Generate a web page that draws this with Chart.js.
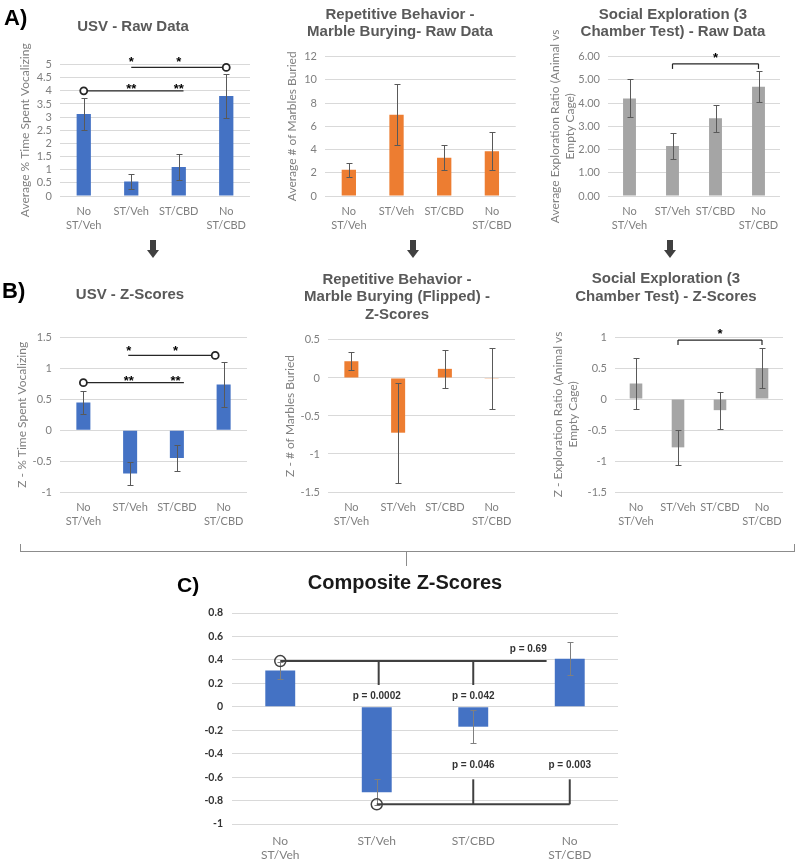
<!DOCTYPE html>
<html>
<head>
<meta charset="utf-8">
<script src="https://cdn.jsdelivr.net/npm/chart.js@4.4.1/dist/chart.umd.min.js"></script>
<style>
  html, body { margin: 0; padding: 0; background: #fff; overflow: hidden; }
  #page { position: relative; width: 797px; height: 863px; overflow: hidden; }
  canvas { position: absolute; }
  .tag { position: absolute; font: bold 22px "Liberation Sans", Arial, sans-serif; color: #000; line-height: 1; }
  .arrow { position: absolute; width: 12px; height: 18px; }
  .arrow .shaft { position: absolute; left: 3px; top: 0; width: 6px; height: 10px; background: #404040; }
  .arrow .head { position: absolute; left: 0; top: 10px; width: 0; height: 0;
    border-left: 6px solid transparent; border-right: 6px solid transparent; border-top: 8px solid #404040; }
  .brace { position: absolute; border: 1px solid #8c8c8c; border-top: none; }
  .brace-tick { position: absolute; width: 0; border-left: 1px solid #8c8c8c; }
</style>
</head>
<body>
<div id="page">
  <canvas id="cUsvRaw" width="260" height="240" style="left:0;top:0"></canvas>
  <canvas id="cMarbleRaw" width="260" height="240" style="left:260px;top:0"></canvas>
  <canvas id="cSocialRaw" width="277" height="240" style="left:520px;top:0"></canvas>
  <canvas id="cUsvZ" width="260" height="260" style="left:0;top:280px"></canvas>
  <canvas id="cMarbleZ" width="260" height="275" style="left:260px;top:265px"></canvas>
  <canvas id="cSocialZ" width="277" height="275" style="left:520px;top:265px"></canvas>
  <canvas id="cComposite" width="450" height="298" style="left:180px;top:565px"></canvas>

  <div class="tag" style="left:4px;top:7px">A)</div>
  <div class="tag" style="left:2px;top:280px">B)</div>
  <div class="tag" style="left:177px;top:574px;font-size:21px">C)</div>

  <div class="arrow" style="left:147px;top:240px"><div class="shaft"></div><div class="head"></div></div>
  <div class="arrow" style="left:407px;top:240px"><div class="shaft"></div><div class="head"></div></div>
  <div class="arrow" style="left:664px;top:240px"><div class="shaft"></div><div class="head"></div></div>

  <div class="brace" style="left:20px;top:544px;width:773px;height:7px"></div>
  <div class="brace-tick" style="left:406px;top:552px;height:14px"></div>
</div>

<script>
// groups (x categories)
const groups = [["No", "ST/Veh"], "ST/Veh", "ST/CBD", ["No", "ST/CBD"]];

// raw data (mean, +/- error)
const usvRaw = [3.12, 0.55, 1.1, 3.8];
const usvRawErr = [0.62, 0.3, 0.5, 0.85];
const marbleRaw = [2.25, 7.0, 3.3, 3.85];
const marbleRawErr = [0.58, 2.6, 1.05, 1.65];
const socialRaw = [4.2, 2.15, 3.35, 4.7];
const socialRawErr = [0.82, 0.55, 0.58, 0.67];

// z-scores
const usvZ = [0.45, -0.7, -0.45, 0.74];
const usvZErr = [0.19, 0.19, 0.215, 0.37];
const marbleZ = [0.22, -0.72, 0.12, -0.01];
const marbleZErr = [0.12, 0.66, 0.25, 0.4];
const socialZ = [0.25, -0.78, -0.18, 0.5];
const socialZErr = [0.41, 0.28, 0.3, 0.33];
const compositeZ = [0.31, -0.73, -0.17, 0.41];
const compositeZErr = [0.075, 0.11, 0.14, 0.14];

// y axis ranges [min, max, step]
const usvRawTicks = [0, 5, 0.5];
const marbleRawTicks = [0, 12, 2];
const socialRawTicks = [0, 6, 1];
const usvZTicks = [-1, 1.5, 0.5];
const marbleZTicks = [-1.5, 0.5, 0.5];
const socialZTicks = [-1.5, 1, 0.5];
const compositeTicks = [-1, 0.8, 0.2];

// significance marks, in category index / value units
// links: [x1, y1, x2, y2], rings: [x, y], labels: [text, x, y]
const usvRawLinks = [[0, 4.0, 2.1, 4.0], [1, 4.89, 3, 4.89]];
const usvRawRings = [[0, 4.0], [3, 4.89]];
const usvRawStars = [["**", 1, 4.16], ["**", 2, 4.16], ["*", 1, 5.19], ["*", 2, 5.19]];

const socialRawLinks = [[1, 5.47, 1, 5.69], [1, 5.69, 3, 5.69], [3, 5.69, 3, 5.47]];
const socialRawStars = [["*", 2, 6.04]];

const usvZLinks = [[0, 0.77, 2.15, 0.77], [0.96, 1.21, 2.82, 1.21]];
const usvZRings = [[0, 0.77], [2.82, 1.21]];
const usvZStars = [["**", 0.97, 0.846], ["**", 1.97, 0.846], ["*", 0.97, 1.33], ["*", 1.97, 1.33]];

const socialZLinks = [[1, 0.87, 1, 0.95], [1, 0.95, 3, 0.95], [3, 0.95, 3, 0.87]];
const socialZStars = [["*", 2, 1.085]];

const compLinks = [[0, 0.39, 2.76, 0.39], [1.02, 0.39, 1.02, 0.186], [2, 0.39, 2, 0.186],
  [1, -0.832, 3, -0.832], [2, -0.832, 2, -0.619], [3, -0.832, 3, -0.619]];
const compRings = [[0, 0.39], [1, -0.832]];
const compPvals = [["p = 0.69", 2.57, 0.493], ["p = 0.0002", 1, 0.094], ["p = 0.042", 2, 0.094],
  ["p = 0.046", 2, -0.497], ["p = 0.003", 3, -0.497]];

const BLUE = "#4472C4", ORANGE = "#ED7D31", GRAY = "#A5A5A5";

Chart.defaults.font.family = "Lato";

const errorBars = (err, color) => ({
  id: "errorBars",
  afterDatasetsDraw(chart) {
    const ctx = chart.ctx;
    const y = chart.scales.y;
    const vals = chart.data.datasets[0].data;
    ctx.save();
    ctx.strokeStyle = color;
    ctx.lineWidth = 1;
    chart.getDatasetMeta(0).data.forEach((bar, i) => {
      const x = Math.round(bar.x) + 0.5;
      const hi = Math.round(y.getPixelForValue(vals[i] + err[i])) + 0.5;
      const lo = Math.round(y.getPixelForValue(vals[i] - err[i])) + 0.5;
      ctx.beginPath();
      ctx.moveTo(x, hi); ctx.lineTo(x, lo);
      ctx.moveTo(x - 3, hi); ctx.lineTo(x + 3, hi);
      ctx.moveTo(x - 3, lo); ctx.lineTo(x + 3, lo);
      ctx.stroke();
    });
    ctx.restore();
  },
});

// lines, open circles and labels placed through the chart scales
const sigMarks = (m, st) => ({
  id: "sigMarks",
  afterDraw(chart) {
    const { ctx, scales: { x, y } } = chart;
    const px = (v) => x.getPixelForValue(v);
    const py = (v) => y.getPixelForValue(v);
    ctx.save();
    ctx.strokeStyle = st.line;
    ctx.lineWidth = st.lineWidth;
    (m.links || []).forEach(([x1, y1, x2, y2]) => {
      ctx.beginPath();
      ctx.moveTo(px(x1), py(y1));
      ctx.lineTo(px(x2), py(y2));
      ctx.stroke();
    });
    ctx.lineWidth = st.ringWidth;
    (m.rings || []).forEach(([cx, cy]) => {
      ctx.beginPath();
      ctx.arc(px(cx), py(cy), st.ringR, 0, Math.PI * 2);
      if (st.ringFill) { ctx.fillStyle = st.ringFill; ctx.fill(); }
      ctx.stroke();
    });
    ctx.fillStyle = st.text;
    ctx.font = st.font;
    ctx.textAlign = "center";
    ctx.textBaseline = "middle";
    (m.labels || []).forEach(([t, lx, ly]) => {
      ctx.fillText(t, px(lx), py(ly) + (st.textShift || 0));
    });
    ctx.restore();
  },
});

const starStyle = { line: "#262626", lineWidth: 1.2, ringWidth: 1.8, ringR: 3.5, ringFill: "#fff",
  text: "#000", font: "bold 13px 'Liberation Sans'", textShift: 3 };
const pStyle = { line: "#404040", lineWidth: 2, ringWidth: 1.5, ringR: 5.5, ringFill: null,
  text: "#333", font: "bold 10px 'Liberation Sans'" };

const barChart = (id, o) => {
  const [min, max, step] = o.ticks;
  return new Chart(document.getElementById(id), {
    type: "bar",
    data: {
      labels: groups,
      datasets: [{ data: o.values, backgroundColor: o.color, barPercentage: o.barPct || 0.3, categoryPercentage: 1 }],
    },
    options: {
      responsive: false,
      animation: false,
      layout: { padding: { left: o.L, right: o.R, top: 0, bottom: 0 } },
      plugins: {
        legend: { display: false },
        tooltip: { enabled: false },
        title: {
          display: true,
          text: o.title,
          color: o.titleColor || "#595959",
          font: { family: "Liberation Sans", size: o.titleSize || 15, weight: "bold", lineHeight: o.titleLH || 1.17 },
          padding: { top: o.tPad[0], bottom: o.tPad[1] },
        },
      },
      scales: {
        x: {
          grid: { display: false, drawTicks: false },
          border: { display: false },
          ticks: {
            color: "#7f7f7f",
            font: o.xFont || { size: 11, lineHeight: 1.3 },
            padding: o.xPad || 8,
            maxRotation: 0,
            autoSkip: false,
          },
          afterFit: (s) => { s.height = o.xH; },
        },
        y: {
          min, max,
          grid: { color: "#d9d9d9", drawTicks: false },
          border: { display: false },
          ticks: {
            stepSize: step,
            autoSkip: false,
            padding: o.yPad || 8,
            color: o.yTickColor || "#7f7f7f",
            font: o.yFont || { size: 11 },
            callback: o.fmt || ((v) => Math.round(v * 100) / 100),
          },
          title: o.yTitle
            ? { display: true, text: o.yTitle, color: "#7f7f7f", font: { size: 12, lineHeight: 1.25 }, padding: { top: o.yTitlePad, bottom: 0 } }
            : { display: false },
          afterFit: (s) => { s.width = o.yW; },
        },
      },
    },
    plugins: [errorBars(o.err, o.errColor || "#595959"), sigMarks(o.marks || {}, o.markStyle || starStyle)],
  });
};

barChart("cUsvRaw", {
  values: usvRaw, err: usvRawErr, color: BLUE, ticks: usvRawTicks,
  title: "USV - Raw Data", yTitle: "Average % Time Spent Vocalizing",
  L: 16, R: 10, yW: 44, xH: 44, tPad: [18, 29], yTitlePad: 1.5,
  marks: { links: usvRawLinks, rings: usvRawRings, labels: usvRawStars },
});

barChart("cMarbleRaw", {
  values: marbleRaw, err: marbleRawErr, color: ORANGE, ticks: marbleRawTicks,
  title: ["Repetitive Behavior -", "Marble Burying- Raw Data"], yTitle: "Average # of Marbles Buried",
  L: 23, R: 3, yW: 42, xH: 44, tPad: [6, 15.5], yTitlePad: 1.5,
});

barChart("cSocialRaw", {
  values: socialRaw, err: socialRawErr, color: GRAY, ticks: socialRawTicks,
  title: ["Social Exploration (3", "Chamber Test) - Raw Data"],
  yTitle: ["Average Exploration Ratio (Animal vs", "Empty Cage)"],
  L: 46, R: 17, yW: 42, xH: 44, tPad: [6, 15.5], yTitlePad: -18.5,
  fmt: (v) => v.toFixed(2),
  marks: { links: socialRawLinks, labels: socialRawStars },
});

barChart("cUsvZ", {
  values: usvZ, err: usvZErr, color: BLUE, ticks: usvZTicks,
  title: "USV - Z-Scores", yTitle: "Z - % Time Spent Vocalizing",
  L: 13, R: 13, yW: 47, xH: 48, tPad: [6, 34], yTitlePad: 1.5,
  marks: { links: usvZLinks, rings: usvZRings, labels: usvZStars },
});

barChart("cMarbleZ", {
  values: marbleZ, err: marbleZErr, color: ORANGE, ticks: marbleZTicks,
  title: ["Repetitive Behavior -", "Marble Burying (Flipped) -", "Z-Scores"], yTitle: "Z - # of Marbles Buried",
  L: 19, R: 5, yW: 49, xH: 48, tPad: [5.7, 16.6], yTitlePad: 3.5,
});

barChart("cSocialZ", {
  values: socialZ, err: socialZErr, color: GRAY, ticks: socialZTicks,
  title: ["Social Exploration (3", "Chamber Test) - Z-Scores"],
  yTitle: ["Z - Exploration Ratio (Animal vs", "Empty Cage)"],
  L: 29, R: 14, yW: 66, xH: 48, tPad: [5.2, 31.7], yTitlePad: 1.5,
  marks: { links: socialZLinks, labels: socialZStars },
});

barChart("cComposite", {
  values: compositeZ, err: compositeZErr, color: BLUE, ticks: compositeTicks, barPct: 0.31,
  title: "Composite Z-Scores", titleSize: 20, titleColor: "#1a1a1a", titleLH: 1.2,
  L: 12, R: 12, yW: 40, xH: 39, xPad: 11, tPad: [6, 18], yPad: 9,
  xFont: { size: 12, lineHeight: 1.1 },
  yTickColor: "#333", yFont: { size: 10.5, weight: "bold" },
  fmt: (v) => Math.round(v * 10) / 10,
  errColor: "#7f7f7f",
  marks: { links: compLinks, rings: compRings, labels: compPvals },
  markStyle: pStyle,
});
</script>
</body>
</html>
